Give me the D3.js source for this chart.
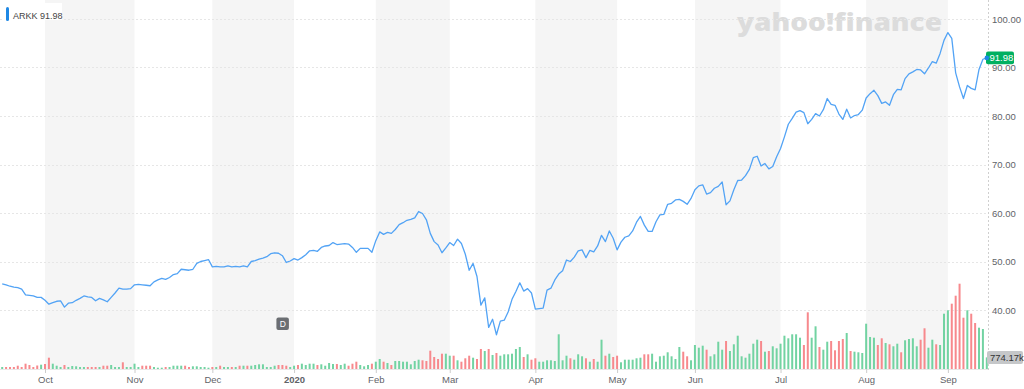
<!DOCTYPE html>
<html><head><meta charset="utf-8">
<script src="https://cdn.jsdelivr.net/npm/d3@7"></script>
<style>html,body{margin:0;padding:0;background:#fff;} svg{display:block;}</style>
</head><body>
<svg id="c" width="1024" height="389"></svg>
<script>
const closes = [
45.4,45.2,44.9,44.7,44.6,44.3,43.1,43.0,42.9,42.6,
42.6,42.0,41.2,41.5,41.8,41.9,40.6,41.4,41.5,42.0,
42.4,42.9,42.7,42.6,41.9,42.4,42.1,41.7,42.6,43.5,
44.5,44.3,44.3,44.4,45.2,45.3,45.2,45.1,45.0,45.8,
46.2,46.5,46.3,46.7,47.3,47.5,48.4,48.3,48.2,48.4,
49.6,50.0,50.2,50.4,48.9,49.0,48.9,48.9,49.1,48.9,
49.0,48.9,49.1,48.9,50.0,50.2,50.5,50.7,51.0,51.6,
51.8,51.7,51.2,49.8,50.1,50.6,50.3,50.8,51.4,52.2,
52.3,52.1,52.9,53.2,53.3,53.9,53.5,53.6,53.7,53.6,
52.9,51.9,52.7,52.7,52.7,51.9,54.3,56.1,55.6,56.0,
55.8,56.6,57.6,58.0,58.5,58.7,59.0,60.3,59.9,58.6,
55.8,54.1,53.4,51.8,52.8,53.9,53.3,54.6,53.7,51.5,
48.2,49.6,46.9,41.0,42.5,36.4,38.1,34.9,37.7,37.9,
39.6,42.2,43.8,45.6,43.9,44.4,43.5,40.2,40.3,40.4,
44.1,44.5,46.2,47.4,48.1,50.3,50.0,50.9,52.2,52.4,
50.8,52.3,52.0,53.2,55.4,54.1,56.3,54.8,52.4,54.0,
55.0,55.3,56.3,58.1,59.3,57.5,56.2,56.2,58.2,59.6,
59.7,61.8,62.0,62.7,62.8,62.4,61.8,63.0,64.8,65.6,
65.8,63.9,64.2,65.1,65.5,66.4,61.7,62.5,64.8,66.7,
66.8,67.7,69.0,71.4,71.7,69.7,70.2,69.1,69.6,71.6,
73.3,75.7,78.3,79.5,80.8,81.1,80.7,78.4,79.3,80.5,
80.0,81.3,83.6,82.4,82.2,80.4,79.3,81.4,79.6,80.1,
80.3,81.2,83.7,84.6,85.3,84.2,82.6,82.9,82.2,84.4,
85.5,85.4,87.7,88.7,89.1,89.6,89.5,88.7,89.9,91.2,
90.9,92.9,95.6,97.2,96.0,88.9,86.0,83.6,86.3,85.7,
85.4,89.6,91.7,91.98
];
// volume in thousands of shares
const volumes = [
133,133,133,133,220,133,354,267,133,233,287,334,
754,
354,220,133,267,133,200,180,133,
133,133,133,133,133,220,220,267,
133,133,447,133,133,354,
133,220,220,220,
133,87,87,133,133,220,220,220,220,133,
180,180,133,133,87,133,133,220,133,133,133,133,
220,220,220,220,267,313,313,133,
133,220,267,267,220,133,220,
267,354,267,354,354,267,313,220,400,334,334,267,
354,220,354,487,267,180,267,354,487,667,
487,400,267,534,534,487,487,313,534,620,
580,534,1220,800,667,1020,1020,887,887,580,
487,714,887,754,667,1334,1200,1334,934,1067,
887,980,980,1020,1334,1467,800,980,620,714,
487,487,580,580,534,2314,580,887,714,620,
980,847,714,487,667,487,1954,887,1020,800,
887,447,620,620,620,714,754,980,980,1020,
487,847,887,1114,847,667,1467,
1154,847,580,1600,1420,1554,1287,847,980,1820,
1287,1867,1200,1647,2220,847,754,1020,1687,1954,
1867,1154,1200,1514,1380,1687,2220,2047,2314,2314,
2087,1600,3780,2087,2847,1467,1287,1820,1867,1247,
1867,2000,2400,1200,1154,1114,1067,3020,2134,2087,
1600,2047,1734,1647,1514,1687,1114,1914,2000,2047,
1514,1954,2714,1420,1954,1647,1600,3687,3914,4354,
4887,5687,3420,3914,3687,3067,2754,2667,774.17
];
const monthLabels = ["Oct","Nov","Dec","2020","Feb","Mar","Apr","May","Jun","Jul","Aug","Sep"];
const monthStarts = [11,34,54,75,96,115,137,158,178,200,222,243];
const priceTicks = [40,50,60,70,80,90,100];
const symbol = "ARKK";
const lastVolumeLabel = "774.17k";
const dividendIndex = 72;

const svg = d3.select("#c");
const font = "'Liberation Sans', Arial, Helvetica, sans-serif";
const n = closes.length;
const x = d3.scaleLinear().domain([0, n - 1]).range([2.2, 986.8]);
const y = d3.scaleLinear().domain([40, 100]).range([310, 19]);
const v = d3.scaleLinear().domain([0, 6000]).range([369, 279]);
const axisX = 988, baseY = 369;

// month bands
const bands = svg.append("g");
monthStarts.forEach((m, k) => {
  if (k % 2 === 0 && k + 1 < monthStarts.length) {
    bands.append("rect")
      .attr("x", x(m)).attr("y", 0)
      .attr("width", x(monthStarts[k + 1]) - x(m))
      .attr("height", baseY + 1)
      .attr("fill", "#f5f5f5");
  }
});

// watermark
svg.append("text")
  .attr("x", 737).attr("y", 30.5)
  .attr("font-family", "'Open Sans', 'Noto Sans', sans-serif")
  .attr("font-weight", 800).attr("font-size", 24)
  .attr("textLength", 205).attr("lengthAdjust", "spacingAndGlyphs")
  .attr("fill", "#dcdcdc")
  .text("yahoo!finance");

// grid lines
svg.append("g").selectAll("line").data(priceTicks).join("line")
  .attr("x1", 0).attr("x2", axisX)
  .attr("y1", d => Math.round(y(d)) + 0.5).attr("y2", d => Math.round(y(d)) + 0.5)
  .attr("stroke", "#e6e6e6").attr("stroke-dasharray", "2,2");

svg.append("line").attr("x1", 0).attr("x2", axisX)
  .attr("y1", baseY + 0.5).attr("y2", baseY + 0.5).attr("stroke", "#e8e8e8");

// right axis vertical line
svg.append("line").attr("x1", axisX + 0.5).attr("x2", axisX + 0.5)
  .attr("y1", 0).attr("y2", baseY + 1)
  .attr("stroke", "#cfcfcf").attr("stroke-dasharray", "2,2");

// volume bars
svg.append("g").selectAll("rect").data(volumes).join("rect")
  .attr("x", (d, i) => x(i) - 1)
  .attr("y", d => v(d))
  .attr("width", 2)
  .attr("height", d => baseY - v(d))
  .attr("fill", (d, i) => (i === 0 || closes[i] >= closes[i - 1]) ? "#72d3a2" : "#f7898d");

// price line
svg.append("path").datum(closes)
  .attr("d", d3.line().x((d, i) => x(i)).y(d => y(d)))
  .attr("fill", "none").attr("stroke", "#52a3f5").attr("stroke-width", 1.3)
  .attr("stroke-linejoin", "round");

// price axis labels
const ya = svg.append("g").attr("transform", `translate(${axisX},0)`)
  .call(d3.axisRight(y).tickValues(priceTicks).tickFormat(d3.format(".2f")).tickSize(0).tickPadding(4));
ya.select(".domain").remove();
ya.selectAll("text").attr("font-family", font).attr("font-size", 9.5).attr("fill", "#5f6368");

// x axis
const xa = svg.append("g").attr("transform", `translate(0,${baseY})`)
  .call(d3.axisBottom(x).tickValues(monthStarts).tickFormat((d, i) => monthLabels[i]).tickSize(4).tickPadding(3.5));
xa.select(".domain").remove();
xa.selectAll("line").attr("stroke", "#cccccc");
xa.selectAll("text").attr("font-family", font).attr("font-size", 9.5).attr("fill", "#5f6368")
  .attr("font-weight", (d, i) => monthLabels[i] === "2020" ? "bold" : "normal");

// dividend marker
const dx = x(dividendIndex);
svg.append("rect").attr("x", dx - 6).attr("y", 317.5).attr("width", 12.5).attr("height", 12.5)
  .attr("rx", 2).attr("fill", "#6b6e72");
svg.append("text").attr("x", dx + 0.3).attr("y", 327.3).attr("text-anchor", "middle")
  .attr("font-family", font).attr("font-size", 8.5).attr("fill", "#fff").text("D");

// last price label
const last = closes[n - 1];
const ly = y(last);
svg.append("rect").attr("x", 986).attr("y", ly - 6.3).attr("width", 28).attr("height", 12.6)
  .attr("rx", 2).attr("fill", "#00b061");
svg.append("text").attr("x", 989.5).attr("y", ly + 3.4)
  .attr("font-family", font).attr("font-size", 9.5).attr("fill", "#fff")
  .text(last.toFixed(2));
svg.append("circle").attr("cx", x(n - 1)).attr("cy", ly).attr("r", 2.3).attr("fill", "#1e88e5");

// last volume label
const vy = v(volumes[n - 1]);
svg.append("rect").attr("x", 987).attr("y", vy - 6.5).attr("width", 36).attr("height", 13)
  .attr("rx", 2).attr("fill", "#c5c7c9");
svg.append("text").attr("x", 990).attr("y", vy + 3.4)
  .attr("font-family", font).attr("font-size", 9.5).attr("fill", "#333")
  .text(lastVolumeLabel);

// legend
svg.append("rect").attr("x", 3).attr("y", 3).attr("width", 59).attr("height", 17).attr("fill", "#fff");
svg.append("rect").attr("x", 6).attr("y", 7).attr("width", 3).attr("height", 14).attr("rx", 1.5).attr("fill", "#1e88e5");
svg.append("text").attr("x", 13).attr("y", 19)
  .attr("font-family", font).attr("font-size", 9).attr("fill", "#444")
  .text(`${symbol} ${last.toFixed(2)}`);
</script>
</body></html>
